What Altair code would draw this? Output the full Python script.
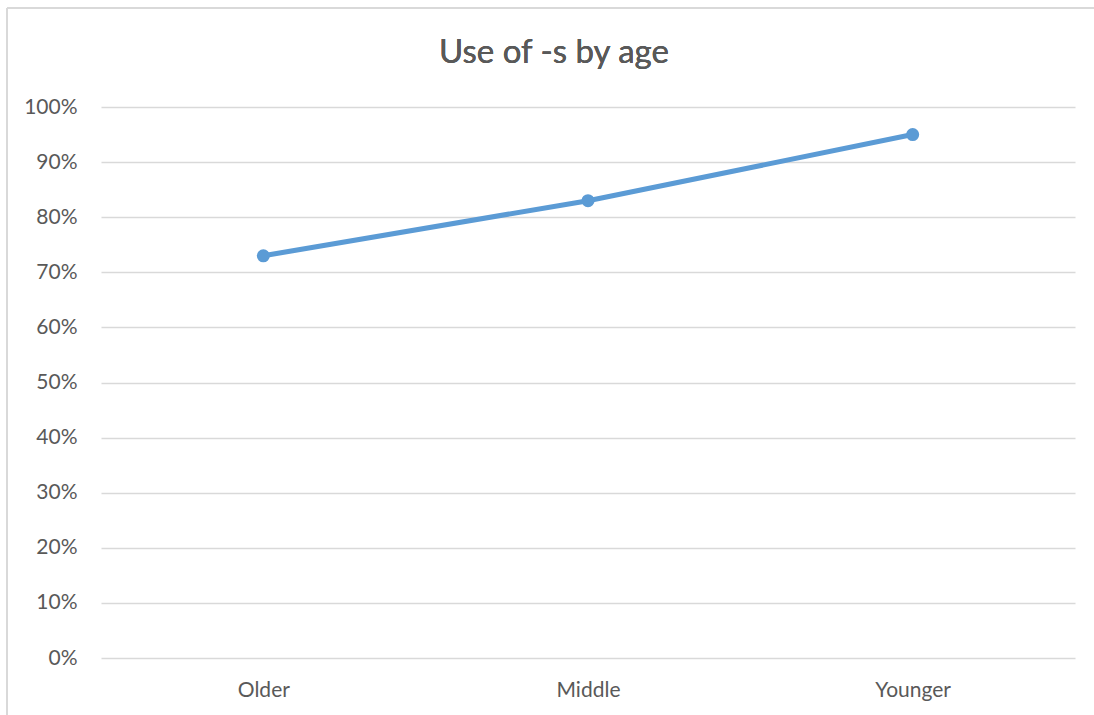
import altair as alt
import pandas as pd

# Share of speakers using -s, by age group
age_groups = ["Older", "Middle", "Younger"]
share_s = [0.73, 0.83, 0.95]
y_ticks = [0.0, 0.1, 0.2, 0.3, 0.4, 0.5, 0.6, 0.7, 0.8, 0.9, 1.0]

df = pd.DataFrame({"age": age_groups, "share": share_s})

FONT = "Lato"
TEXT = "#595959"
GRID = "#d9d9d9"
BLUE = "#5b9bd5"

x_enc = alt.X(
    "age:N",
    sort=age_groups,
    scale=alt.Scale(type="point", padding=0.5),
    axis=alt.Axis(
        title=None, labelAngle=0, ticks=False, domain=False, grid=False,
        labelFont=FONT, labelFontSize=21, labelColor=TEXT, labelPadding=21,
    ),
)
y_enc = alt.Y(
    "share:Q",
    scale=alt.Scale(domain=[0, 1], nice=False),
    axis=alt.Axis(
        title=None, values=y_ticks, format=".0%", ticks=False, domain=False,
        grid=True, gridColor=GRID, gridWidth=1.4,
        labelFont=FONT, labelFontSize=21, labelColor=TEXT, labelPadding=24,
    ),
)

base = alt.Chart(df)
line = base.mark_line(color=BLUE, strokeWidth=5).encode(x=x_enc, y=y_enc)
points = base.mark_point(filled=True, color=BLUE, size=170, opacity=1).encode(x=x_enc, y=y_enc)

# Chart title, centred on the outer frame
title = alt.Chart(df).mark_text(
    font=FONT, fontSize=33, color=TEXT, align="center", baseline="alphabetic"
).encode(x=alt.value(453), y=alt.value(-44), text=alt.value("Use of -s by age"))

# Outer chart frame (top and left edges)
frame_top = alt.Chart(df).mark_rule(color=GRID, strokeWidth=1.5).encode(
    x=alt.value(-94), x2=alt.value(1000), y=alt.value(-99)
)
frame_left = alt.Chart(df).mark_rule(color=GRID, strokeWidth=1.5).encode(
    x=alt.value(-94), y=alt.value(-99), y2=alt.value(620)
)

chart = alt.layer(frame_top, frame_left, title, line, points).properties(
    width=974,
    height=551,
    autosize=alt.AutoSizeParams(type="none"),
    padding={"left": 101, "top": 107, "right": 19, "bottom": 57},
    background="white",
).configure_view(stroke=None)

chart.save("out.html", embed_options={"renderer": "svg", "actions": False})
